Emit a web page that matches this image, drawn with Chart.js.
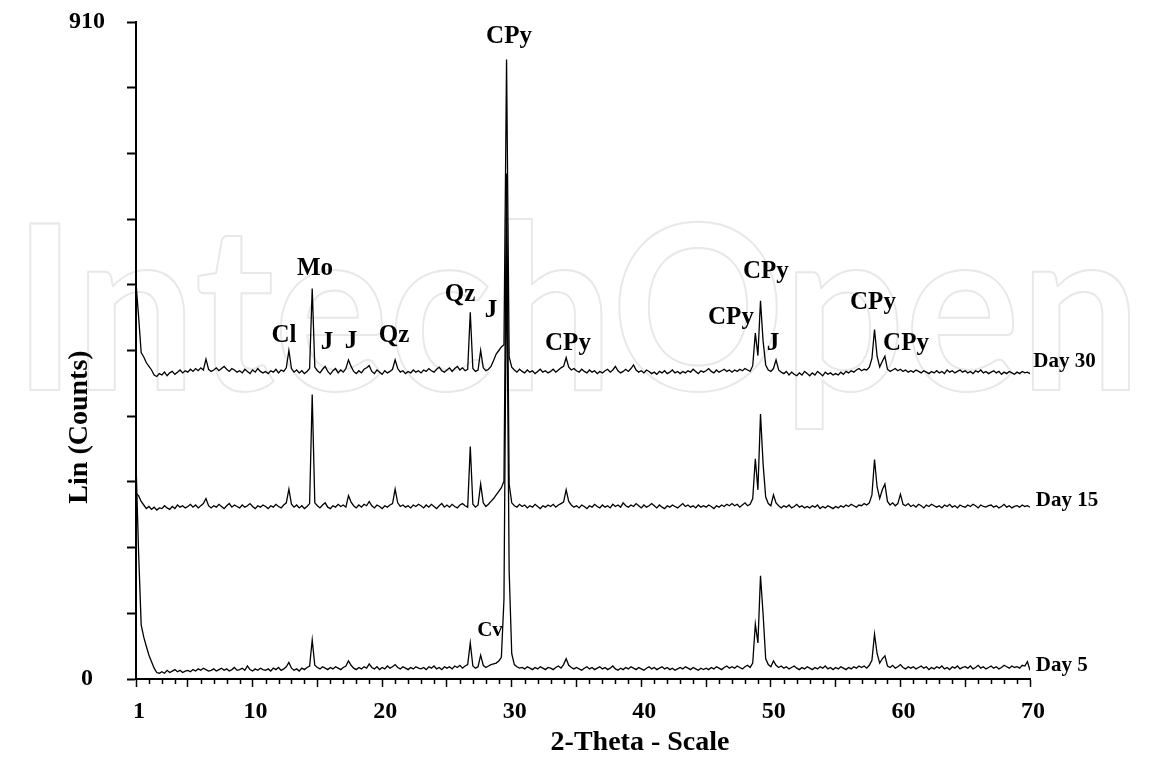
<!DOCTYPE html>
<html>
<head>
<meta charset="utf-8">
<script src="https://cdn.jsdelivr.net/npm/chart.js@4.4.1/dist/chart.umd.min.js"></script>
<style>
  html, body { margin: 0; padding: 0; background: #fff; }
  canvas { display: block; }
</style>
</head>
<body>
<canvas id="xrd" width="1151" height="762"></canvas>
<script>
// Difratograma: 2-theta de 1 a 70 com passo de 0.2
const startAngle = 1;
const stepAngle = 0.2;
const angles = Array.from({ length: 346 }, (_, i) => +(startAngle + i * stepAngle).toFixed(1));

const seriesNames = ["Day 5", "Day 15", "Day 30"];

// Contagens (cada linha = 2 graus)
const day30 = [
  548, 502, 452, 446, 438, 433, 428, 421, 419, 423,
  421, 425, 420, 424, 426, 422, 425, 428, 424, 427,
  425, 429, 426, 430, 427, 431, 428, 443, 429, 426,
  428, 431, 427, 430, 433, 429, 426, 430, 428, 425,
  427, 424, 429, 426, 423, 428, 425, 430, 426, 424,
  426, 423, 427, 425, 429, 424, 428, 426, 431, 455,
  430, 425, 428, 424, 427, 423, 426, 430, 541, 432,
  427, 424, 429, 433, 426, 422, 427, 430, 424, 428,
  425, 430, 442, 433, 426, 423, 427, 424, 429, 431,
  434, 426, 423, 428, 425, 422, 427, 424, 426, 429,
  442, 430, 425, 427, 423, 426, 424, 428, 425, 427,
  424, 428, 426, 430, 427, 425, 429, 432, 427, 425,
  428, 431, 426, 430, 433, 428, 431, 427, 429, 508,
  430, 426, 428, 455, 431, 427, 429, 433, 441, 450,
  455, 460, 463, 858, 446, 432, 428, 425, 429, 426,
  424, 428, 425, 427, 423, 426, 429, 425, 427, 424,
  426, 429, 425, 428, 431, 433, 445, 432, 428, 430,
  427, 425, 429, 426, 424, 428, 425, 427, 423, 426,
  424, 427, 429, 425, 428, 433, 427, 424, 426, 429,
  426, 430, 435, 428, 425, 427, 424, 428, 426, 423,
  425, 422, 426, 424, 427, 423, 425, 428, 424, 426,
  423, 426, 424, 427, 425, 429, 426, 423, 427, 425,
  427, 430, 426, 424, 428, 425, 427, 429, 426, 428,
  425, 428, 426, 429, 427, 430, 428, 426, 434, 479,
  448, 524, 468, 435, 428, 426, 430, 442, 428, 425,
  423, 426, 421, 425, 422, 420, 424, 421, 426, 423,
  420, 424, 421, 426, 423, 420, 425, 422, 424, 421,
  423, 421, 425, 422, 426, 424, 427, 425, 428, 430,
  427, 429, 428, 432, 444, 484, 447, 432, 440, 447,
  429, 426, 428, 430, 427, 429, 426, 428, 425, 427,
  425, 428, 426, 424, 427, 425, 423, 426, 424, 427,
  424, 426, 423, 428, 425, 427, 424, 426, 428, 425,
  427, 424, 426, 423, 427, 425, 428, 424, 426, 423,
  425, 427, 424, 426, 422, 425, 423, 426, 424, 422,
  425, 423, 426, 424, 425, 423
];

const day15 = [
  257, 254, 246, 241, 236, 239, 235, 238, 234, 237,
  236, 240, 237, 235, 239, 236, 241, 238, 240, 237,
  239, 242, 238, 241, 237, 240, 243, 250, 240, 237,
  240, 238, 242, 239, 236, 240, 243, 238, 241, 239,
  237, 241, 238, 240, 243, 239, 236, 240, 238, 241,
  239, 236, 240, 238, 242, 239, 237, 241, 244, 263,
  242, 238, 241, 237, 240, 236, 239, 243, 394, 244,
  240, 237, 241, 244, 238, 236, 240, 238, 242, 239,
  241, 238, 254, 245, 240, 237, 241, 238, 242, 240,
  246, 240, 237, 241, 239, 236, 240, 238, 241, 243,
  263, 244, 239, 241, 238, 240, 237, 241, 239, 242,
  240, 237, 241, 238, 242, 239, 236, 240, 243, 238,
  241, 238, 242, 239, 237, 241, 243, 240, 238, 322,
  242, 238, 241, 270, 244, 239, 242, 246, 250, 255,
  260, 265, 274, 700, 270, 244, 240, 238, 242, 239,
  241, 237, 240, 238, 242, 239, 236, 240, 238, 241,
  239, 242, 238, 241, 243, 245, 262, 246, 241, 238,
  240, 237, 241, 239, 236, 240, 238, 242, 239, 237,
  241, 238, 240, 237, 242, 239, 241, 238, 244, 240,
  238, 241, 239, 243, 240, 237, 241, 238, 240, 243,
  240, 237, 241, 238, 236, 240, 238, 241, 239, 237,
  240, 243, 239, 241, 238, 240, 237, 241, 238, 240,
  238, 241, 239, 236, 240, 238, 241, 239, 242, 240,
  243, 240, 242, 238, 241, 244, 240, 242, 250, 305,
  262, 367, 298, 252, 243, 240, 255, 244, 240, 237,
  240, 238, 241, 237, 239, 242, 238, 240, 237, 239,
  237, 240, 238, 241, 236, 239, 237, 240, 238, 236,
  239, 237, 240, 238, 241, 239, 242, 240, 238, 241,
  240, 243, 241, 244, 255, 304, 266, 250, 262, 270,
  246, 241, 244, 240, 243, 256, 242, 240, 243, 239,
  241, 238, 242, 240, 237, 241, 239, 242, 240, 238,
  240, 237, 241, 239, 242, 238, 240, 237, 241, 239,
  238, 241, 239, 242, 240, 237, 241, 239, 238, 240,
  241, 238, 240, 237, 239, 242, 238, 240, 237, 239,
  240, 238, 241, 239, 240, 238
];

const day5 = [
  300, 175, 75, 58, 45, 33, 24, 15, 9, 8,
  10, 8, 12, 9, 11, 13, 10, 12, 9, 11,
  12, 10, 13, 11, 14, 12, 15, 13, 11, 12,
  14, 11, 13, 15, 12, 14, 11, 13, 16, 12,
  13, 15, 12, 18, 13, 11, 14, 12, 15, 13,
  12, 14, 11, 15, 13, 16, 12, 14, 17, 23,
  15, 12, 14, 11, 15, 13, 16, 18, 54, 19,
  16, 14, 17, 15, 13, 16, 14, 17, 15, 13,
  16, 18, 25, 19, 15, 13, 16, 14, 17, 15,
  21, 16, 14, 17, 13, 16, 14, 18, 15, 17,
  20, 16, 14, 17, 15, 13, 16, 14, 17, 15,
  14, 16, 13, 17, 15, 18, 14, 16, 13, 17,
  15, 17, 14, 18, 16, 19, 15, 18, 20, 50,
  18, 15, 17, 33, 19, 16, 18, 20, 21, 22,
  25, 30, 110, 600, 150, 35, 20, 17, 15, 16,
  14, 17, 15, 13, 16, 14, 17, 15, 13, 16,
  15, 13, 16, 18, 15, 20, 28, 19, 16, 14,
  16, 14, 12, 15, 17, 14, 16, 13, 15, 17,
  14, 16, 13, 15, 18, 14, 12, 15, 13, 16,
  14, 17, 15, 13, 16, 14, 12, 15, 17, 14,
  16, 13, 15, 17, 14, 16, 13, 15, 12, 14,
  16, 14, 17, 15, 13, 16, 14, 12, 15, 13,
  15, 13, 16, 14, 17, 15, 13, 16, 18, 15,
  17, 15, 18, 16, 14, 17, 19, 16, 22, 76,
  50, 143, 90, 28, 20, 17, 25, 19, 16, 18,
  15, 17, 14, 16, 18, 15, 13, 16, 14, 17,
  15, 13, 16, 14, 17, 15, 18, 14, 16, 13,
  16, 14, 17, 15, 13, 16, 14, 17, 15, 18,
  16, 18, 15, 19, 26, 62, 35, 22, 28, 32,
  18, 16, 19, 15, 17, 20, 16, 14, 17, 15,
  17, 14, 16, 18, 15, 17, 13, 16, 14, 17,
  15, 18, 14, 16, 13, 17, 15, 18, 14, 16,
  17, 15, 18, 14, 16, 19, 15, 17, 14, 16,
  18, 15, 17, 14, 16, 19, 17, 15, 18, 16,
  17, 15, 19, 18, 24, 12
];

// Identificação dos picos (texto, 2-theta, contagem)
const peakLabels = ["CPy", "Mo", "Cl", "J", "J", "Qz", "Qz", "J", "CPy", "CPy", "CPy", "J", "CPy", "CPy", "Cv"];
const peakAngles = [29.79, 14.81, 12.42, 15.74, 17.59, 20.91, 26.01, 28.40, 34.34, 46.92, 49.62, 50.16, 57.88, 60.43, 28.32];
const peakCounts = [890, 569, 476, 466, 468, 476, 533, 511, 464, 500, 565, 465, 521, 465, 67];

// Nome de cada curva à direita
const nameAngles = [70.45, 70.45, 70.25];
const nameCounts = [18, 247, 439];

const xLabelTicks = [1, 10, 20, 30, 40, 50, 60, 70];
const yMax = 910;

const serif = "'Liberation Serif', 'Times New Roman', serif";

const overlay = {
    id: "overlay",
    beforeDraw(chart) {
        // marca d'água
        const ctx = chart.ctx;
        ctx.save();
        ctx.font = "700 230px Lato, 'Open Sans', sans-serif";
        const w = ctx.measureText("IntechOpen").width;
        ctx.translate(13, 390);
        ctx.scale(1128 / w, 1);
        ctx.strokeStyle = "#e8e8e8";
        ctx.lineWidth = 2;
        ctx.lineJoin = "round";
        ctx.textBaseline = "alphabetic";
        ctx.strokeText("IntechOpen", 0, 0);
        ctx.restore();
    },
    afterDraw(chart) {
        const ctx = chart.ctx;
        const xs = chart.scales.x;
        const ys = chart.scales.y;
        const bottom = chart.chartArea.bottom;
        ctx.save();

        // ticks menores do eixo x
        ctx.strokeStyle = "#000";
        ctx.lineWidth = 1.5;
        for (let v = 2; v < 70; v++) {
            if (v % 5 === 0) continue;
            const px = Math.round(xs.getPixelForValue(v)) + 0.5;
            ctx.beginPath();
            ctx.moveTo(px, bottom);
            ctx.lineTo(px, bottom + 5);
            ctx.stroke();
        }

        ctx.fillStyle = "#000";
        ctx.textBaseline = "middle";

        // rótulos dos picos
        ctx.textAlign = "center";
        peakLabels.forEach((t, i) => {
            ctx.font = (t === "Cv" ? "bold 21px " : "bold 25px ") + serif;
            ctx.fillText(t, xs.getPixelForValue(peakAngles[i]), ys.getPixelForValue(peakCounts[i]));
        });

        // nomes das curvas
        ctx.textAlign = "left";
        ctx.font = "bold 21px " + serif;
        seriesNames.forEach((t, i) => {
            ctx.fillText(t, xs.getPixelForValue(nameAngles[i]), ys.getPixelForValue(nameCounts[i]));
        });

        // títulos dos eixos
        ctx.textAlign = "center";
        ctx.font = "bold 28px " + serif;
        ctx.fillText("2-Theta - Scale", 640, 743);
        ctx.translate(80, 427);
        ctx.rotate(-Math.PI / 2);
        ctx.fillText("Lin (Counts)", 0, 0);
        ctx.restore();
    }
};

const makeSet = (name, values) => ({
    label: name,
    data: angles.map((a, i) => ({ x: a, y: values[i] })),
    borderColor: "#000",
    borderWidth: 1.3,
    pointRadius: 0,
    tension: 0,
    fill: false
});

new Chart(document.getElementById("xrd").getContext("2d"), {
    type: "line",
    data: {
        datasets: [
            makeSet(seriesNames[0], day5),
            makeSet(seriesNames[1], day15),
            makeSet(seriesNames[2], day30)
        ]
    },
    options: {
        responsive: false,
        animation: false,
        devicePixelRatio: 1,
        layout: { padding: { top: 22, right: 121, bottom: 0, left: 0 } },
        plugins: { legend: { display: false }, tooltip: { enabled: false } },
        scales: {
            x: {
                type: "linear",
                min: 1,
                max: 70,
                afterFit(scale) {
                    scale.height = 83;
                    scale.paddingLeft = 0;
                    scale.paddingRight = 0;
                },
                afterBuildTicks(scale) {
                    const t = [1];
                    for (let v = 5; v <= 70; v += 5) t.push(v);
                    scale.ticks = t.map(v => ({ value: v }));
                },
                grid: { drawOnChartArea: false, drawTicks: true, tickLength: 8, tickWidth: 1.5, tickColor: "#000" },
                border: { display: true, color: "#000", width: 2 },
                ticks: {
                    autoSkip: false,
                    maxRotation: 0,
                    padding: 10,
                    labelOffset: 3,
                    color: "#000",
                    font: { family: serif, size: 24, weight: "bold" },
                    callback: v => xLabelTicks.includes(v) ? String(v) : ""
                }
            },
            y: {
                min: 0,
                max: yMax,
                afterFit(scale) {
                    scale.width = 136;
                    scale.paddingTop = 0;
                    scale.paddingBottom = 0;
                },
                grid: { drawOnChartArea: false, drawTicks: true, tickLength: 9, tickWidth: 2, tickColor: "#000" },
                border: { display: true, color: "#000", width: 2 },
                ticks: {
                    stepSize: 91,
                    padding: 22,
                    crossAlign: "center",
                    color: "#000",
                    font: { family: serif, size: 24, weight: "bold" },
                    callback: v => (v === 0 || v === yMax) ? String(v) : ""
                }
            }
        }
    },
    plugins: [overlay]
});
</script>
</body>
</html>
